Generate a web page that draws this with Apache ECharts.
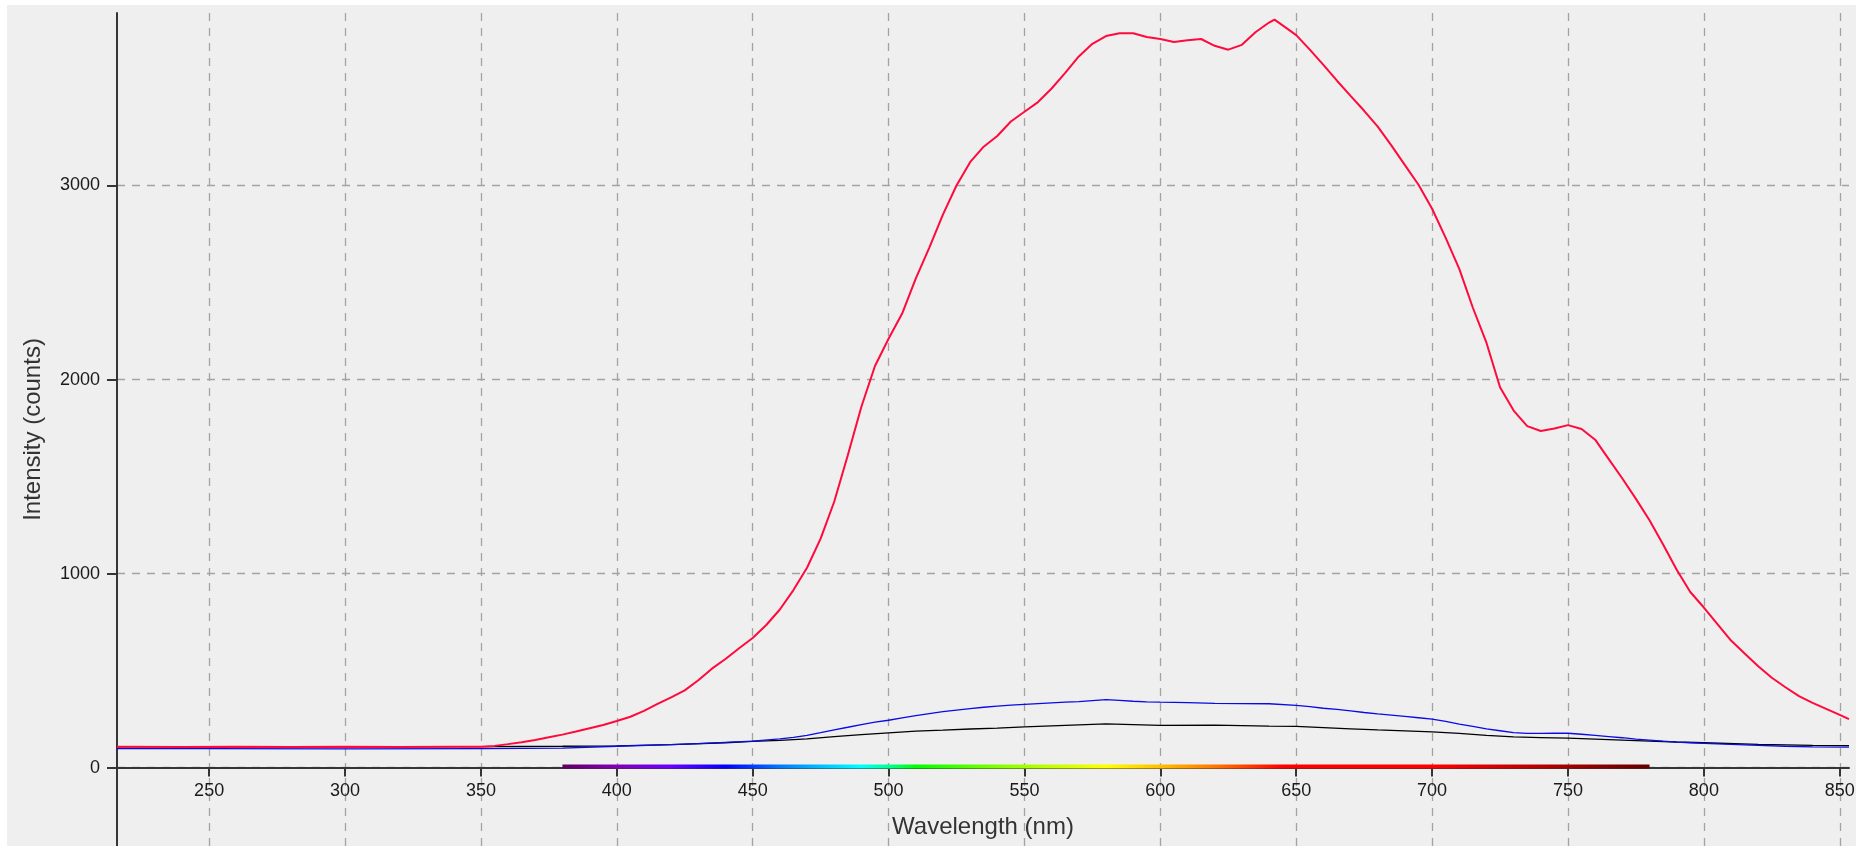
<!DOCTYPE html>
<html>
<head>
<meta charset="utf-8">
<title>Spectrum</title>
<script src="https://cdn.jsdelivr.net/npm/echarts@6/dist/echarts.min.js"></script>
<style>
  html, body { margin: 0; padding: 0; background: #ffffff; }
  #chart { position: absolute; left: 7px; top: 5px; width: 1849px; height: 841px; }
</style>
</head>
<body>
<div id="chart"></div>
<script>
// Axis extents (nm, counts) and tick values
const xRange = [216.1, 853.4];
const yRange = [-404, 3889];
const xTicks = [250, 300, 350, 400, 450, 500, 550, 600, 650, 700, 750, 800, 850];
const yTicks = [0, 1000, 2000, 3000];

// Visible-light band shown along the wavelength axis (nm)
const visibleBand = [380, 780];

// Spectra: [wavelength nm, intensity counts]
const redSpectrum = [
  [216,107],[240,106],[260,108],[280,106],[300,107],[320,106],[340,108],[350,108],
  [355,112],[360,121],[365,131],[370,142],[375,156],[380,170],[385,186],[390,203],
  [395,220],[400,240],[405,262],[410,292],[415,328],[420,362],[425,398],[430,450],
  [435,510],[440,560],[445,615],[450,668],[455,735],[460,815],[465,915],[470,1030],
  [475,1180],[480,1370],[485,1610],[490,1860],[495,2070],[500,2210],[505,2340],[510,2520],
  [515,2680],[520,2850],[525,3000],[530,3120],[535,3200],[540,3255],[545,3330],[550,3380],
  [555,3430],[560,3500],[565,3580],[570,3665],[575,3730],[580,3770],[585,3785],[590,3785],
  [595,3765],[600,3755],[605,3740],[610,3748],[615,3755],[620,3720],[625,3700],[630,3725],
  [635,3790],[640,3840],[642,3855],[645,3825],[650,3775],[655,3700],[660,3622],[665,3540],
  [670,3462],[675,3385],[680,3303],[685,3207],[690,3105],[695,3004],[700,2880],[705,2730],
  [710,2570],[715,2370],[720,2190],[725,1960],[730,1840],[735,1760],[740,1735],[745,1748],
  [750,1765],[755,1745],[760,1690],[765,1590],[770,1490],[775,1385],[780,1275],[785,1150],
  [790,1020],[795,905],[800,825],[805,740],[810,655],[815,588],[820,522],[825,463],
  [830,414],[835,368],[840,334],[845,303],[850,272],[853.4,250]
];

const blueSpectrum = [
  [216,98],[250,98],[300,97],[350,98],[380,100],[400,110],[420,118],[430,124],
  [440,130],[450,136],[460,148],[465,156],[470,166],[475,180],[480,195],[485,208],
  [490,222],[495,234],[500,244],[505,256],[510,268],[515,278],[520,288],[525,296],
  [530,304],[535,311],[540,317],[545,322],[550,326],[555,330],[560,334],[565,337],
  [570,340],[575,345],[580,350],[585,347],[590,342],[595,339],[600,337],[610,335],
  [620,331],[630,330],[640,329],[650,321],[655,314],[660,306],[665,300],[670,292],
  [675,284],[680,277],[685,271],[690,264],[695,257],[700,250],[705,238],[710,224],
  [715,212],[720,200],[725,190],[730,180],[735,176],[740,176],[745,177],[750,177],
  [755,172],[760,166],[765,160],[770,154],[775,147],[780,142],[785,136],[790,131],
  [795,128],[800,125],[810,120],[820,115],[830,110],[840,107],[853.4,106]
];

const blackSpectrum = [
  [216,107],[250,108],[300,107],[350,108],[380,110],[400,112],[420,118],[440,128],
  [450,135],[460,140],[470,148],[480,160],[490,170],[500,179],[510,188],[520,193],
  [530,199],[540,204],[550,210],[560,215],[570,220],[580,225],[590,222],[600,218],
  [620,219],[640,214],[650,212],[660,206],[670,200],[680,194],[690,189],[700,184],
  [710,176],[720,166],[730,158],[740,155],[750,152],[760,147],[770,142],[780,137],
  [790,132],[800,128],[820,120],[840,115],[853.4,113]
];

// Colour of the visible band at given wavelengths
const bandStops = [
  [380, '#5e0060'], [400, '#8300b5'], [420, '#6a00ff'], [440, '#0000ff'],
  [460, '#007aff'], [480, '#00d5ff'], [490, '#00ffff'], [500, '#00ff92'],
  [510, '#00ff00'], [540, '#82ff00'], [560, '#c3ff00'], [580, '#ffff00'],
  [600, '#ffbe00'], [620, '#ff7700'], [645, '#ff0000'], [700, '#ff0000'],
  [740, '#b50000'], [780, '#610000']
];

const chart = echarts.init(document.getElementById('chart'), null, { renderer: 'canvas' });

const axisColor = '#353535';
const gridColor = '#a3a3a3';
const fontFamily = '"Liberation Sans", Arial, sans-serif';

const bandGradient = new echarts.graphic.LinearGradient(0, 0, 1, 0,
  bandStops.map(([nm, c]) => ({
    offset: (nm - visibleBand[0]) / (visibleBand[1] - visibleBand[0]),
    color: c
  }))
);

const plainNumber = v => String(Math.round(v));

// Plot frame: the main grid runs to the bottom edge (negative counts below the
// zero line); the label grid ends on the zero line so wavelength labels sit under it.
const plotLeft = 110, plotTop = 8, plotRight = 7;
const chartHeight = 841;
const zeroLineBottom = chartHeight - (plotTop + (chartHeight - plotTop) * yRange[1] / (yRange[1] - yRange[0]));

chart.setOption({
  backgroundColor: '#efefef',
  animation: false,
  textStyle: { fontFamily: fontFamily },
  grid: [
    { left: plotLeft, top: plotTop, right: plotRight, bottom: 0, outerBoundsMode: 'none' },
    { left: plotLeft, top: plotTop, right: plotRight, bottom: zeroLineBottom, outerBoundsMode: 'none' }
  ],
  xAxis: [
    {
      type: 'value',
      gridIndex: 0,
      min: xRange[0],
      max: xRange[1],
      axisLine: { show: true, onZero: true, lineStyle: { color: axisColor, width: 2 } },
      axisTick: { show: true, inside: false, length: 9, customValues: xTicks,
                  lineStyle: { color: axisColor, width: 2 } },
      axisLabel: { show: false },
      splitLine: { show: true, lineStyle: { color: gridColor, width: 1.3, type: [8, 7] } }
    },
    {
      type: 'value',
      gridIndex: 1,
      min: xRange[0],
      max: xRange[1],
      name: 'Wavelength (nm)',
      nameLocation: 'middle',
      nameGap: 48,
      nameTextStyle: { fontSize: 24, color: '#333333', fontFamily: fontFamily },
      axisLine: { show: false, onZero: false },
      axisTick: { show: false, customValues: xTicks },
      axisLabel: { customValues: xTicks, fontSize: 18, color: '#1a1a1a', margin: 14,
                   fontFamily: fontFamily, formatter: plainNumber },
      splitLine: { show: false }
    }
  ],
  yAxis: [
    {
      type: 'value',
      gridIndex: 0,
      min: yRange[0],
      max: yRange[1],
      name: 'Intensity (counts)',
      nameLocation: 'middle',
      nameGap: 72,
      nameTextStyle: { fontSize: 24, color: '#333333', fontFamily: fontFamily },
      axisLine: { show: true, lineStyle: { color: axisColor, width: 2 } },
      axisTick: { show: true, inside: false, length: 10, customValues: yTicks,
                  lineStyle: { color: axisColor, width: 2 } },
      axisLabel: { customValues: yTicks, fontSize: 18, color: '#1a1a1a', margin: 17,
                   fontFamily: fontFamily, formatter: plainNumber },
      splitLine: { show: true, lineStyle: { color: gridColor, width: 1.3, type: [8, 7] } }
    },
    {
      type: 'value',
      gridIndex: 1,
      min: 0,
      max: yRange[1],
      show: false
    }
  ],
  series: [
    {
      name: 'visible',
      type: 'custom',
      silent: true,
      z: 3,
      xAxisIndex: 0,
      yAxisIndex: 0,
      data: [[visibleBand[0], visibleBand[1], 0]],
      encode: { x: [0, 1], y: 2 },
      renderItem: function (params, api) {
        const a = api.coord([api.value(0), api.value(2)]);
        const b = api.coord([api.value(1), api.value(2)]);
        return {
          type: 'rect',
          shape: { x: a[0], y: a[1] - 3, width: b[0] - a[0], height: 4 },
          style: { fill: bandGradient }
        };
      }
    },
    {
      name: 'black',
      type: 'line',
      xAxisIndex: 0,
      yAxisIndex: 0,
      data: blackSpectrum,
      showSymbol: false,
      symbol: 'none',
      lineStyle: { color: '#000000', width: 1.3 },
      z: 4
    },
    {
      name: 'blue',
      type: 'line',
      xAxisIndex: 0,
      yAxisIndex: 0,
      data: blueSpectrum,
      showSymbol: false,
      symbol: 'none',
      lineStyle: { color: '#0a0ae6', width: 1.3 },
      z: 5
    },
    {
      name: 'red',
      type: 'line',
      xAxisIndex: 0,
      yAxisIndex: 0,
      data: redSpectrum,
      showSymbol: false,
      symbol: 'none',
      lineStyle: { color: '#ff0a3c', width: 2 },
      z: 6
    }
  ]
});
</script>
</body>
</html>
